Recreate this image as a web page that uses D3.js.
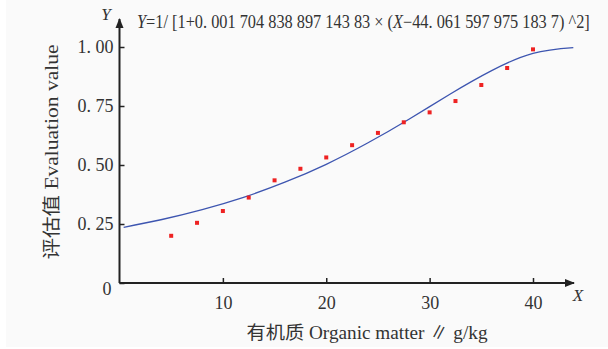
<!DOCTYPE html>
<html>
<head>
<meta charset="utf-8">
<script src="https://cdn.jsdelivr.net/npm/d3@7"></script>
<style>
  body { margin: 0; background: #fff; }
  text { font-family: "Liberation Serif", "Noto Sans CJK SC", serif; fill: #333; }
</style>
</head>
<body>
<div id="chart"></div>
<script>
const width = 608, height = 349;

// measured points (organic matter g/kg -> evaluation value)
const organic = [5, 7.5, 10, 12.5, 15, 17.5, 20, 22.5, 25, 27.5, 30, 32.5, 35, 37.5, 40];
const evalValue = [0.20, 0.255, 0.305, 0.362, 0.435, 0.484, 0.532, 0.584, 0.636, 0.681, 0.723, 0.771, 0.839, 0.911, 0.99];

// fitted curve
const curveX = [0.4, 4, 8, 12, 16, 20, 24, 28, 32, 36, 40, 43.9];
const curveY = [0.236, 0.268, 0.311, 0.363, 0.427, 0.503, 0.593, 0.694, 0.801, 0.900, 0.973, 0.997];

const xTicks = [10, 20, 30, 40];
const yTicks = [0, 0.25, 0.5, 0.75, 1];

const svg = d3.select("#chart").append("svg")
    .attr("width", width)
    .attr("height", height);

// page background
svg.append("rect").attr("x", 6).attr("y", 0).attr("width", width - 6).attr("height", 347)
    .attr("fill", "#fafafa");

const x = d3.scaleLinear().domain([0, 40]).range([119.5, 533]);
const y = d3.scaleLinear().domain([0, 1]).range([283, 47]);

// axes
const xAxis = svg.append("g")
    .attr("transform", `translate(0,${y(0)})`)
    .call(d3.axisBottom(x).tickValues(xTicks).tickSize(-5).tickPadding(13)
        .tickFormat(d3.format("d")));
xAxis.select(".domain").remove();
xAxis.selectAll("line").attr("stroke", "#222").attr("stroke-width", 1.5);
xAxis.selectAll("text").attr("font-size", 18).attr("fill", "#333");

const yAxis = svg.append("g")
    .attr("transform", `translate(${x(0)},0)`)
    .call(d3.axisLeft(y).tickValues(yTicks).tickSize(-5).tickPadding(6)
        .tickFormat(d => d === 0 ? "0" : d3.format(".2f")(d).replace(".", ". ")));
yAxis.select(".domain").remove();
yAxis.selectAll("line").attr("stroke", "#222").attr("stroke-width", 1.5);
yAxis.selectAll("text").attr("font-size", 18).attr("fill", "#333")
    .attr("dy", d => d === 0 ? "0.65em" : "0.32em")
    .attr("dx", d => d === 0 ? -2 : 0);

// axis lines with arrows
svg.append("defs").append("marker")
    .attr("id", "arrow")
    .attr("viewBox", "0 0 10 10")
    .attr("refX", 9).attr("refY", 5)
    .attr("markerWidth", 5).attr("markerHeight", 5)
    .attr("markerUnits", "strokeWidth")
    .attr("orient", "auto")
    .append("path").attr("d", "M0,1 L10,5 L0,9 Z").attr("fill", "#222");

svg.append("line")
    .attr("x1", x(0)).attr("y1", y(0)).attr("x2", 574).attr("y2", y(0))
    .attr("stroke", "#222").attr("stroke-width", 2).attr("marker-end", "url(#arrow)");
svg.append("line")
    .attr("x1", x(0)).attr("y1", y(0)).attr("x2", x(0)).attr("y2", 19)
    .attr("stroke", "#222").attr("stroke-width", 2).attr("marker-end", "url(#arrow)");

svg.append("text").attr("x", 578).attr("y", 301).attr("font-size", 17)
    .attr("font-style", "italic").attr("text-anchor", "middle").text("X");
svg.append("text").attr("x", 106).attr("y", 20).attr("font-size", 17)
    .attr("font-style", "italic").attr("text-anchor", "middle").text("Y");

// fitted curve
const line = d3.line()
    .x(d => x(d[0]))
    .y(d => y(d[1]))
    .curve(d3.curveNatural);
svg.append("path")
    .datum(d3.zip(curveX, curveY))
    .attr("fill", "none")
    .attr("stroke", "#3d55b0")
    .attr("stroke-width", 1.3)
    .attr("d", line);

// points
svg.selectAll(".pt")
    .data(d3.zip(organic, evalValue))
    .enter().append("rect")
    .attr("class", "pt")
    .attr("x", d => x(d[0]) - 2)
    .attr("y", d => y(d[1]) - 2)
    .attr("width", 4).attr("height", 4)
    .attr("fill", "#ee2222");

// formula, squeezed to the width it has in the picture
const fg = svg.append("g");
const f = fg.append("text").attr("x", 0).attr("y", 0).attr("font-size", 18);
f.append("tspan").attr("font-style", "italic").text("Y");
f.append("tspan").text("=1/ [1+0. 001  704  838  897  143  83 × (");
f.append("tspan").attr("font-style", "italic").text("X");
f.append("tspan").text("−44. 061  597  975  183  7) ^2]");
const fw = f.node().getComputedTextLength();
fg.attr("transform", `translate(137,28) scale(${453 / fw},1)`);

// axis titles
svg.append("text")
    .attr("transform", "translate(58,152) rotate(-90)")
    .attr("text-anchor", "middle").attr("font-size", 18)
    .attr("textLength", 215).attr("lengthAdjust", "spacingAndGlyphs")
    .text("评估值 Evaluation value");
svg.append("text")
    .attr("x", 367).attr("y", 339)
    .attr("text-anchor", "middle").attr("font-size", 18)
    .attr("textLength", 241).attr("lengthAdjust", "spacingAndGlyphs")
    .text("有机质 Organic matter ∥ g/kg");
</script>
</body>
</html>
